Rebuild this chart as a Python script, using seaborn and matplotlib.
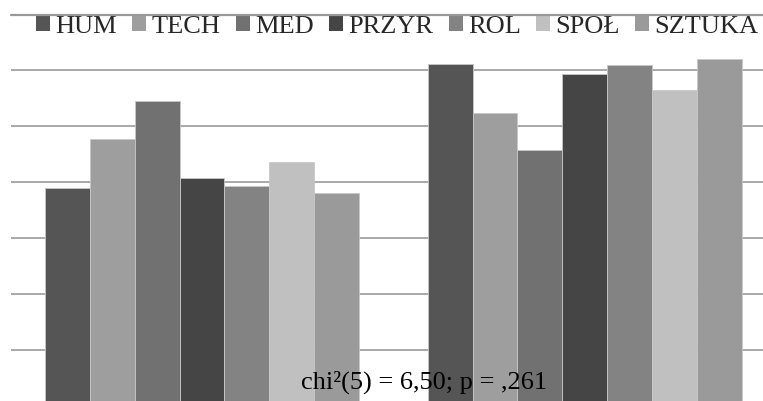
import matplotlib
matplotlib.use("Agg")
import matplotlib.pyplot as plt
from matplotlib.font_manager import FontProperties
from matplotlib.lines import Line2D
import seaborn as sns
import pandas as pd

# Percentages per field of study, for the two answer groups
fields = ["HUM", "TECH", "MED", "PRZYR", "ROL", "SPOŁ", "SZTUKA"]
groups = ["nie", "tak"]
group1_values = [38.9, 47.7, 54.4, 40.7, 39.2, 43.6, 38.0]
group2_values = [61.1, 52.3, 45.6, 59.3, 60.8, 56.4, 62.0]
field_colors = ["#555555", "#9e9e9e", "#717171", "#454545", "#838383", "#c0c0c0", "#9a9a9a"]
stat_label = "chi²(5) = 6,50; p = ,261"

df = pd.DataFrame({
    "grupa": [groups[0]] * len(fields) + [groups[1]] * len(fields),
    "kierunek": fields + fields,
    "procent": group1_values + group2_values,
})

sns.set_theme(style="white")
plt.rcParams["font.family"] = ["Liberation Serif", "DejaVu Serif"]

fs = 19
serif = FontProperties(family=["Liberation Serif", "DejaVu Serif"], size=fs)
grid_color = "#a3a3a3"

W, H = 763, 401
fig = plt.figure(figsize=(W / 100, H / 100), dpi=100)

# Plot area in pixels; 10 percentage points span 56 px, zero line just below the figure
px_per_pct = 5.6
left_px, right_px, zero_px = 10.7, 776.0, 405.7
y_top = 71
top_px = zero_px - y_top * px_per_pct
ax = fig.add_axes([left_px / W, 1 - zero_px / H,
                   (right_px - left_px) / W, (zero_px - top_px) / H])

sns.barplot(data=df, x="grupa", y="procent", hue="kierunek",
            order=groups, hue_order=fields, palette=field_colors,
            width=0.82, gap=0, saturation=1, errorbar=None,
            edgecolor="#c8c8c8", linewidth=0.6, ax=ax)

ax.set_ylim(0, y_top)
ax.set_xlim(-0.5, 1.5)
ax.set_yticks(range(0, 70, 10))
ax.yaxis.grid(True, color=grid_color, linewidth=1.3)
ax.set_axisbelow(True)
ax.tick_params(left=False, bottom=False, labelleft=False, labelbottom=False)
ax.set_xlabel("")
ax.set_ylabel("")
for s in ax.spines.values():
    s.set_visible(False)

# 70 % line across the top of the plot area, above the legend row
y70 = 1 - (round(zero_px - 70 * px_per_pct) + 0.5) / H
fig.add_artist(Line2D([left_px / W, 1], [y70, y70], transform=fig.transFigure,
                      color="#999999", linewidth=1.6, zorder=20))

sns.move_legend(ax, loc="center left",
                bbox_to_anchor=(36 / W, 1 - 27 / H), bbox_transform=fig.transFigure,
                ncol=7, frameon=False, title=None, prop=serif,
                handlelength=0.53, handleheight=0.53, handletextpad=0.2,
                columnspacing=0.58, borderpad=0, borderaxespad=0)
for h in ax.get_legend().legend_handles:
    h.set_edgecolor("none")

fig.text(301 / W, 1 - 389 / H, stat_label, ha="left", va="baseline",
         fontproperties=serif, color="black", zorder=10)

fig.savefig("out.png", dpi=100)
